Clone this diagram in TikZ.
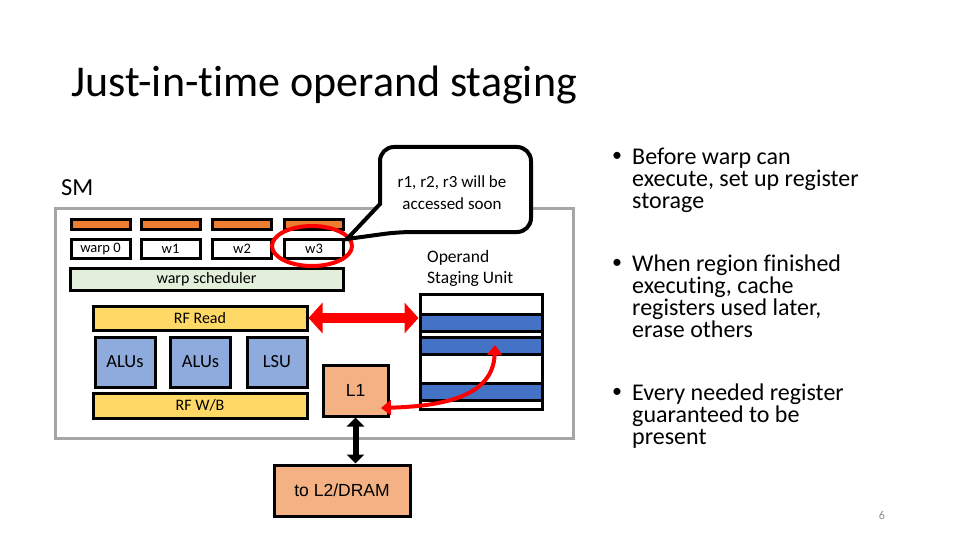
\documentclass[tikz,border=0pt]{standalone}
\usepackage{fontspec}
\setmainfont{Carlito}[Ligatures=NoCommon]
\newfontfamily\arialfont{Liberation Sans}
\usetikzlibrary{arrows.meta}

\definecolor{barorange}{HTML}{ED7D31}
\definecolor{schedgreen}{HTML}{E2EFDA}
\definecolor{rfyellow}{HTML}{FFD966}
\definecolor{alublue}{HTML}{8FAADC}
\definecolor{memorange}{HTML}{F4B183}
\definecolor{rowblue}{HTML}{4472C4}
\definecolor{smgray}{HTML}{A6A6A6}
\definecolor{pagegray}{HTML}{898989}

\begin{document}
\begin{tikzpicture}[x=1pt,y=-1pt,
            box/.style={draw,line width=3pt,inner sep=0pt},
            bar/.style={box,fill=barorange,minimum width=59pt,minimum height=10pt},
            warp/.style={box,minimum width=59pt,minimum height=19pt,font=\fontsize{14.5}{14.5}\selectfont},
            unit/.style={box,fill=alublue,minimum width=60pt,minimum height=50pt,font=\fontsize{18.5}{18.5}\selectfont},
            rf/.style={box,fill=rfyellow,minimum width=214pt,font=\fontsize{16}{16}\selectfont},
            mem/.style={box,fill=memorange,font=\arialfont\fontsize{17.5}{17.5}\selectfont},
            row/.style={box,fill=rowblue,minimum width=122pt,minimum height=17pt},
            bigarrow/.style={{Triangle[length=14pt,width=30pt]}-{Triangle[length=14pt,width=30pt]},line width=10pt},
            point/.style={font=\fontsize{24}{22}\selectfont,align=left,anchor=north west,inner sep=0pt}]

        % page
        \useasboundingbox (0,0) rectangle (960,540);
        \node[anchor=base west,inner sep=0pt,font=\fontsize{44}{44}\selectfont] (title) at (71,97) {Just-in-time operand staging};

        % SM
        \node[draw=smgray,line width=3pt,minimum width=518pt,minimum height=230pt] (sm) at (314,323) {};
        \node[anchor=base west,inner sep=0pt,font=\fontsize{24.5}{24.5}\selectfont] (smlabel) at (61,195) {SM};

        \foreach \x/\n in {100.5/0,170.5/1,242/2,314/3}
            \node[bar] (bar\n) at (\x,224.5) {};
        \node[warp] (w0) at (100.5,248.5) {warp 0};
        \node[warp] (w1) at (170.5,248.5) {w1};
        \node[warp] (w2) at (242,248.5)   {w2};
        \node[warp] (w3) at (314,248.5)   {w3};
        \node[box,fill=schedgreen,minimum width=273pt,minimum height=22pt,font=\fontsize{16}{16}\selectfont] (sched) at (206.5,279) {warp scheduler};

        \node[rf,minimum height=24pt] (rfread) at (200,318)   {RF Read};
        \node[unit] (alu1) at (125,362)   {ALUs};
        \node[unit] (alu2) at (200.5,362) {ALUs};
        \node[unit] (lsu)  at (277,362)   {LSU};
        \node[rf,minimum height=25pt] (rfwb) at (200,405.5) {RF W/B};

        \node[mem,minimum width=65pt,minimum height=51pt] (l1) at (355.5,390.5) {L1};
        \node[mem,minimum width=136pt,minimum height=51pt] (dram) at (342,490.5) {to L2/DRAM};

        % staging unit
        \node[anchor=north west,inner sep=0pt,align=left,font=\fontsize{17.5}{21}\selectfont] (oplabel) at (427,250) {Operand\\Staging Unit};
        \node[box,minimum width=122pt,minimum height=115pt] (stage) at (481,351.5) {};
        \node[row] (r1) at (481,322.5) {};
        \node[row] (r2) at (481,345.5) {};
        \node[row] (r3) at (481,391.5) {};

        % callout
        \draw[red,line width=4pt] (312,246) ellipse [x radius=40,y radius=20];
        \draw[fill=white,line width=4pt,rounded corners=14pt] (380,204) -- (380,147) -- (531,147) -- (531,232) -- (398,232) [sharp corners] -- (347,239) -- cycle;
        \node[align=center,font=\fontsize{17}{22}\selectfont] (note) at (452,193) {r1, r2, r3 will be\\accessed soon};

        % connectors
        \draw[bigarrow,red] (rfread.east) -- (rfread.east -| stage.west);
        \coordinate (l1tip) at (381,408);
        \coordinate (r2tip) at (495,345);
        \draw[red,line width=4pt,{Triangle[length=10pt,width=15pt]}-{Triangle[length=10pt,width=15pt]}]
            (l1tip) .. controls (445,406) and (493,396) .. (r2tip);
        \draw[line width=6pt,{Triangle[length=9pt,width=17pt]}-{Triangle[length=9pt,width=17pt]}]
            (l1.south) -- (l1.south |- dram.north);

        % bullets
        \node[point] (p1) at (632,148) {Before warp can\\execute, set up register\\storage};
        \node[point] (p2) at (632,255) {When region finished\\executing, cache\\registers used later,\\erase others};
        \node[point] (p3) at (632,384) {Every needed register\\guaranteed to be\\present};
        \foreach \p/\y in {1/161,2/268,3/397}
            \node[anchor=base west,inner sep=0pt,font=\fontsize{20}{20}\selectfont] (dot\p) at (612,\y) {\textbullet};

        \node[anchor=base,inner sep=0pt,text=pagegray,font=\fontsize{12}{12}\selectfont] (page) at (882,519) {6};
    \end{tikzpicture}
\end{document}
